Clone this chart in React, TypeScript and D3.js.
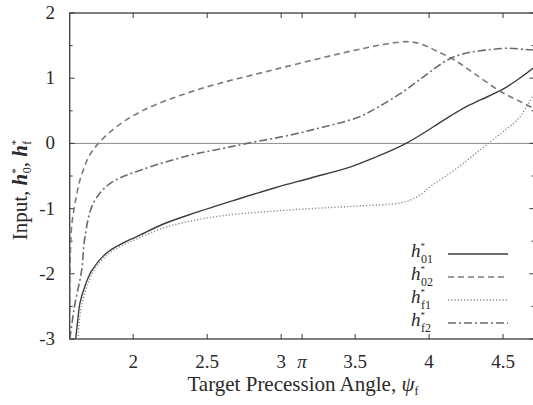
import React from "react";
import * as d3 from "d3";

const h01X = [1.611, 1.625, 1.64, 1.68, 1.72, 1.82, 1.92, 2.025, 2.2, 2.41, 2.7, 2.96, 3.2, 3.47, 3.65, 3.79, 3.86, 3.95, 4.06, 4.15, 4.24, 4.35, 4.49, 4.6, 4.714];
const h01Y = [-3, -2.72, -2.45, -2.15, -1.95, -1.68, -1.54, -1.43, -1.24, -1.07, -0.86, -0.68, -0.53, -0.36, -0.2, -0.06, 0.02, 0.14, 0.3, 0.43, 0.55, 0.67, 0.82, 0.98, 1.17];

const h02X = [1.5712, 1.575, 1.585, 1.607, 1.64, 1.663, 1.7, 1.765, 1.89, 2.07, 2.43, 2.95, 3.5, 3.7, 3.857, 3.95, 4.04, 4.17, 4.3, 4.48, 4.6, 4.714];
const h02Y = [-2.6, -1.7, -1.25, -0.92, -0.56, -0.41, -0.2, 0, 0.26, 0.51, 0.82, 1.13, 1.43, 1.52, 1.56, 1.52, 1.43, 1.28, 1.08, 0.8, 0.66, 0.53];

const hf1X = [1.627, 1.65, 1.73, 1.83, 1.93, 2.03, 2.2, 2.39, 2.6, 2.88, 3.2, 3.52, 3.81, 3.92, 4.01, 4.1, 4.2, 4.3, 4.4, 4.5, 4.6, 4.65, 4.714];
const hf1Y = [-3, -2.5, -1.97, -1.7, -1.56, -1.46, -1.3, -1.19, -1.11, -1.05, -1.0, -0.96, -0.91, -0.82, -0.66, -0.52, -0.36, -0.18, 0, 0.18, 0.37, 0.53, 0.78];

const hf2X = [1.572, 1.59, 1.607, 1.652, 1.674, 1.73, 1.84, 2.05, 2.387, 2.6, 2.77, 3.065, 3.3, 3.52, 3.65, 3.81, 3.95, 4.05, 4.15, 4.26, 4.38, 4.535, 4.65, 4.714];
const hf2Y = [-3, -2.7, -2.45, -1.94, -1.43, -0.92, -0.62, -0.41, -0.18, -0.08, 0, 0.13, 0.26, 0.4, 0.55, 0.77, 1.0, 1.17, 1.31, 1.39, 1.43, 1.46, 1.44, 1.43];

const xTicks = [2, 2.5, 3, Math.PI, 3.5, 4, 4.5];
const xTickLabels = ["2", "2.5", "3", "π", "3.5", "4", "4.5"];
const yTicks = [-3, -2, -1, 0, 1, 2];
const yMinorTicks = [-2.5, -1.5, -0.5, 0.5, 1.5];

const seriesNames = ["01", "02", "f1", "f2"];

const W = 533, H = 405;
const L = 69.7, R = 534.5, T = 13, B = 339;
const FONT = '"Liberation Serif"';
const AXIS = "#3a3a3a";
const TXT = "#2a2a2a";

const styles = [
  { stroke: "#3c3c3c", dash: undefined as string | undefined, w: 1.4 },
  { stroke: "#7a7a7a", dash: "6,4", w: 1.6 },
  { stroke: "#8a8a8a", dash: "1.2,2", w: 1.4 },
  { stroke: "#6a6a6a", dash: "8,3,2,3", w: 1.6 },
];

export default function App() {
  const x = d3.scaleLinear().domain([Math.PI / 2, 4.7124]).range([L, R]);
  const y = d3.scaleLinear().domain([-3, 2]).range([B, T]);
  const data = [
    h01X.map((v, i) => [v, h01Y[i]]),
    h02X.map((v, i) => [v, h02Y[i]]),
    hf1X.map((v, i) => [v, hf1Y[i]]),
    hf2X.map((v, i) => [v, hf2Y[i]]),
  ];
  const line = d3.line<number[]>().x((d) => x(d[0])).y((d) => y(d[1]))
    .curve(d3.curveCatmullRom.alpha(0.5));
  const rows = [254, 277, 300, 323];

  return (
    <svg width={W} height={H}
      style={{ position: "absolute", left: 0, top: 0, background: "#fff", overflow: "hidden" }}>
      <defs>
        <clipPath id="clip"><rect x={L} y={T} width={R - L} height={B - T} /></clipPath>
      </defs>
      <line x1={L} x2={R} y1={y(0)} y2={y(0)} stroke="#8a8a8a" strokeWidth={1} />
      <rect x={L} y={T} width={R - L} height={B - T} fill="none" stroke={AXIS} strokeWidth={1.3} />
      {xTicks.map((t, i) => (
        <g key={"x" + i}>
          <line x1={x(t)} x2={x(t)} y1={B} y2={B - 5} stroke={AXIS} />
          <line x1={x(t)} x2={x(t)} y1={T} y2={T + 5} stroke={AXIS} />
          <text x={x(t)} y={368} textAnchor="middle" fontSize={19} fill={TXT}
            fontStyle={xTickLabels[i] === "π" ? "italic" : "normal"} style={{ fontFamily: FONT }}>
            {xTickLabels[i]}
          </text>
        </g>
      ))}
      {yTicks.map((t) => (
        <g key={"y" + t}>
          <line x1={L} x2={L + 5} y1={y(t)} y2={y(t)} stroke={AXIS} />
          <line x1={R} x2={R - 5} y1={y(t)} y2={y(t)} stroke={AXIS} />
          <text x={55} y={y(t) + 6} textAnchor="end" fontSize={19} fill={TXT} style={{ fontFamily: FONT }}>
            {String(t)}
          </text>
        </g>
      ))}
      {yMinorTicks.map((t) => (
        <g key={"m" + t}>
          <line x1={L} x2={L + 3} y1={y(t)} y2={y(t)} stroke={AXIS} />
          <line x1={R} x2={R - 3} y1={y(t)} y2={y(t)} stroke={AXIS} />
        </g>
      ))}
      <g clipPath="url(#clip)">
        {data.map((d, i) => (
          <path key={"s" + i} d={line(d) || ""} fill="none" stroke={styles[i].stroke}
            strokeWidth={styles[i].w} strokeDasharray={styles[i].dash} />
        ))}
      </g>
      {seriesNames.map((nm, i) => (
        <g key={"l" + i}>
          <line x1={448} x2={508} y1={rows[i]} y2={rows[i]} stroke={styles[i].stroke}
            strokeWidth={styles[i].w} strokeDasharray={styles[i].dash} />
          <text x={411} y={rows[i] + 3} fontSize={19} fill={TXT} style={{ fontFamily: FONT }}>
            <tspan fontStyle="italic">h</tspan>
            <tspan fontSize={9} dy={-8}>*</tspan>
            <tspan fontSize={12} dy={14} dx={-4}>{nm}</tspan>
          </text>
        </g>
      ))}
      <text x={303} y={391} textAnchor="middle" fontSize={21} fill={TXT} style={{ fontFamily: FONT }}>
        <tspan>Target Precession Angle, </tspan>
        <tspan fontStyle="italic">ψ</tspan>
        <tspan fontSize={12} dy={4}>f</tspan>
      </text>
      <text transform="translate(27,190) rotate(-90)" textAnchor="middle" fontSize={21} fill={TXT}
        style={{ fontFamily: FONT }}>
        <tspan>Input, </tspan>
        <tspan fontStyle="italic" fontWeight="bold">h</tspan>
        <tspan fontSize={11} dy={-8}>*</tspan>
        <tspan fontSize={12} dy={12} dx={-5}>0</tspan>
        <tspan dy={-4}>, </tspan>
        <tspan fontStyle="italic" fontWeight="bold">h</tspan>
        <tspan fontSize={11} dy={-8}>*</tspan>
        <tspan fontSize={12} dy={12} dx={-5}>f</tspan>
      </text>
    </svg>
  );
}
